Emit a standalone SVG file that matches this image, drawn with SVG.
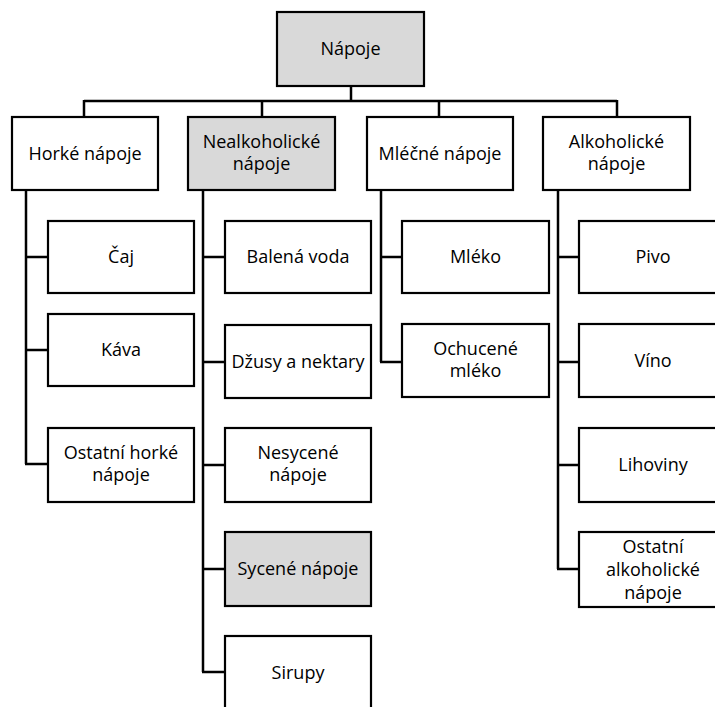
<svg xmlns="http://www.w3.org/2000/svg" width="715" height="707" viewBox="0 0 715 707">
<style>
.box{fill:#ffffff;stroke:#000;stroke-width:2.2}
.gray{fill:#d9d9d9}
.t{font-family:"Open Sans","Noto Sans",sans-serif;font-size:18px;fill:#000;text-anchor:middle}
.c{fill:none;stroke:#000;stroke-width:2.5}
</style>
<rect width="715" height="707" fill="#ffffff"/>
<g id="connectors">
<path class="c" d="M351 86V101" stroke-width="3"/>
<path class="c" d="M84 101H617M84 100V117M262 100V117M439 100V117M617 100V117"/>
<path class="c" d="M26 190V464M26 257H48M26 350H48M25 464H48"/>
<path class="c" d="M203 190V672M203 257H225M203 362H225M203 465H225M203 569H225M202 672H225"/>
<path class="c" d="M381 190V362M381 257H402M380 362H402"/>
<path class="c" d="M558 190V569M558 257H579M558 362H579M558 465H579M557 569H579"/>
</g>
<g id="napoje"><rect class="box gray" x="277" y="12" width="147" height="74"/><text class="t" x="350.5" y="55">Nápoje</text></g>
<g id="horke"><rect class="box" x="12" y="117" width="146" height="73"/><text class="t" x="85" y="160">Horké nápoje</text></g>
<g id="nealko"><rect class="box gray" x="188" y="117" width="147" height="73"/><text class="t" x="261.5" y="148">Nealkoholické</text><text class="t" x="261.5" y="170">nápoje</text></g>
<g id="mlecne"><rect class="box" x="367" y="117" width="146" height="73"/><text class="t" x="440" y="160">Mléčné nápoje</text></g>
<g id="alko"><rect class="box" x="543" y="117" width="147" height="73"/><text class="t" x="616.5" y="148">Alkoholické</text><text class="t" x="616.5" y="170">nápoje</text></g>

<g id="caj"><rect class="box" x="48" y="221" width="146" height="72"/><text class="t" x="121" y="263">Čaj</text></g>
<g id="kava"><rect class="box" x="48" y="314" width="146" height="72"/><text class="t" x="121" y="356">Káva</text></g>
<g id="ostatni-horke"><rect class="box" x="48" y="428" width="146" height="74"/><text class="t" x="121" y="459">Ostatní horké</text><text class="t" x="121" y="481">nápoje</text></g>

<g id="balena"><rect class="box" x="225" y="221" width="146" height="72"/><text class="t" x="298" y="263">Balená voda</text></g>
<g id="dzusy"><rect class="box" x="225" y="325" width="146" height="73"/><text class="t" x="298" y="368">Džusy a nektary</text></g>
<g id="nesycene"><rect class="box" x="225" y="428" width="146" height="74"/><text class="t" x="298" y="459">Nesycené</text><text class="t" x="298" y="481">nápoje</text></g>
<g id="sycene"><rect class="box gray" x="225" y="532" width="146" height="74"/><text class="t" x="298" y="575">Sycené nápoje</text></g>
<g id="sirupy"><rect class="box" x="225" y="636" width="146" height="74"/><text class="t" x="298" y="679">Sirupy</text></g>

<g id="mleko"><rect class="box" x="402" y="221" width="147" height="72"/><text class="t" x="475.5" y="263">Mléko</text></g>
<g id="ochucene"><rect class="box" x="402" y="324" width="147" height="73"/><text class="t" x="475.5" y="355">Ochucené</text><text class="t" x="475.5" y="377">mléko</text></g>

<g id="pivo"><rect class="box" x="579" y="221" width="148" height="72"/><text class="t" x="653" y="263">Pivo</text></g>
<g id="vino"><rect class="box" x="579" y="324" width="148" height="73"/><text class="t" x="653" y="367">Víno</text></g>
<g id="lihoviny"><rect class="box" x="579" y="428" width="148" height="74"/><text class="t" x="653" y="471">Lihoviny</text></g>
<g id="ostatni-alko"><rect class="box" x="579" y="532" width="148" height="75"/><text class="t" x="653" y="553">Ostatní</text><text class="t" x="653" y="576">alkoholické</text><text class="t" x="653" y="599">nápoje</text></g>
</svg>
